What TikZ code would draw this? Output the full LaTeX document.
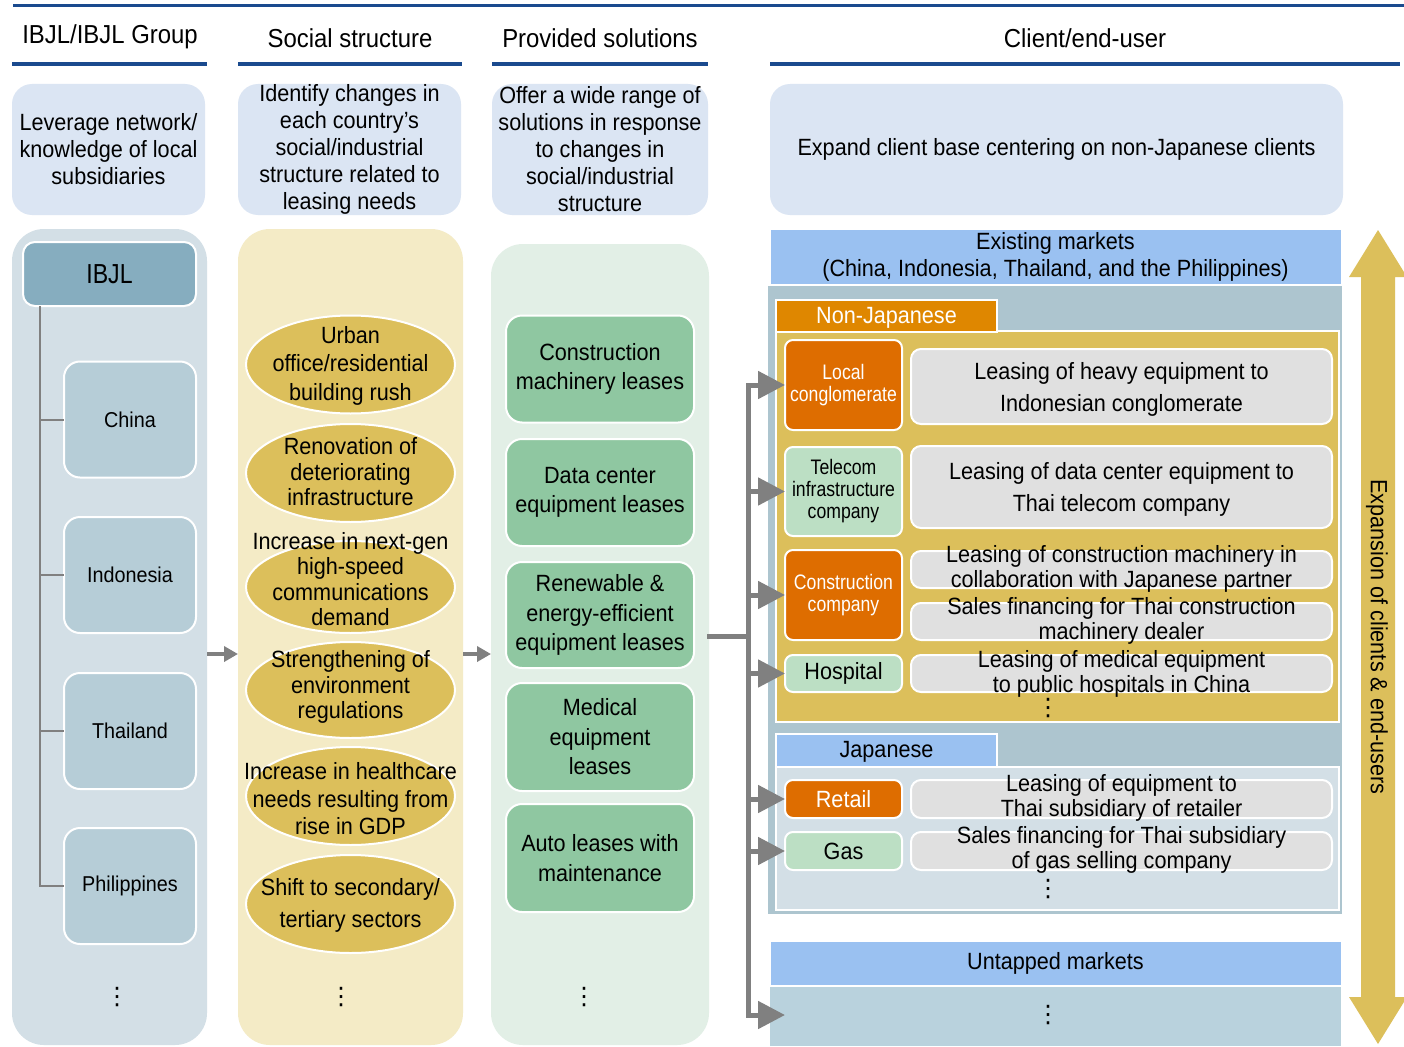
\documentclass[tikz,border=0pt]{standalone}
\usepackage{fontspec}
\setmainfont{Liberation Sans}[FakeStretch=0.92]
\newfontfamily\narrowfont{Liberation Sans}[FakeStretch=0.84]
\newfontfamily\symbolfont{DejaVu Sans}
\usetikzlibrary{arrows.meta,shapes.geometric,calc}

\definecolor{navy}{HTML}{1A4A8E}
\definecolor{aimblue}{HTML}{DBE5F3}
\definecolor{colA}{HTML}{D3DFE6}
\definecolor{colB}{HTML}{F4EBC6}
\definecolor{colC}{HTML}{E2EFE6}
\definecolor{ibjlblue}{HTML}{86ADBF}
\definecolor{countryblue}{HTML}{B6CDD7}
\definecolor{gold}{HTML}{DCBF5B}
\definecolor{leasegreen}{HTML}{8FC7A1}
\definecolor{mktblue}{HTML}{9AC1F1}
\definecolor{mktpanel}{HTML}{ADC5CF}
\definecolor{tabor}{HTML}{DF8700}
\definecolor{clientor}{HTML}{DE6D00}
\definecolor{clientgr}{HTML}{BCDFC4}
\definecolor{casegray}{HTML}{E0E0E0}
\definecolor{jpanel}{HTML}{D3DFE6}
\definecolor{newpanel}{HTML}{B9D2DD}
\definecolor{flowgray}{HTML}{808080}

\newcommand{\fsz}[2]{\fontsize{#1}{#2}\selectfont}

\tikzset{
  every node/.style={inner sep=0pt, outer sep=0pt, align=center},
  sz/.style 2 args={minimum width=#1pt, minimum height=#2pt},
  headtext/.style={font=\fsz{26}{30}},
  headrule/.style={draw=navy, line width=4pt},
  aimbox/.style={rectangle, fill=aimblue, rounded corners=20pt, font=\fsz{23.5}{27}},
  colpanel/.style={rectangle, rounded corners=32pt},
  ibjlbox/.style={rectangle, fill=ibjlblue, draw=white, line width=2pt, rounded corners=12pt, font=\narrowfont\fsz{27.5}{30}},
  countrybox/.style={rectangle, fill=countryblue, draw=white, line width=2pt, rounded corners=16pt, font=\fsz{21.5}{24}},
  need/.style={ellipse, fill=gold, draw=white, line width=2pt},
  needtext/.style={font=\fsz{23.5}{25.5}},
  leasebox/.style={rectangle, fill=leasegreen, draw=white, line width=2pt, rounded corners=16pt, font=\fsz{23.5}{29.5}},
  mkthead/.style={rectangle, fill=mktblue, draw=white, line width=1pt, font=\fsz{23.5}{27}},
  tabbox/.style={rectangle, draw=white, line width=1.5pt},
  tabtext/.style={font=\fsz{23.5}{27}},
  clientbox/.style={rectangle, draw=white, line width=2pt, rounded corners=8pt},
  orbox/.style={clientbox, fill=clientor, text=white},
  grbox/.style={clientbox, fill=clientgr},
  smalltext/.style={font=\narrowfont\fsz{21}{22}},
  casebox/.style={rectangle, fill=casegray, draw=white, line width=2pt, rounded corners=10pt},
  casetext/.style={font=\fsz{23.5}{25}},
  dots/.style={font=\symbolfont\fsz{24}{24}},
  tree/.style={draw=flowgray, line width=2pt},
  smallarrow/.style={draw=flowgray, line width=4pt, -{Triangle[length=14pt,width=15pt]}},
  busline/.style={draw=flowgray, line width=5pt, line cap=rect},
  bigarrow/.style={draw=flowgray, line width=5pt, -{Triangle[length=27pt,width=27pt]}},
}

\begin{document}
\begin{tikzpicture}[x=1pt,y=-1pt]
\useasboundingbox (0,0) rectangle (1404,1046);
\fill[white] (0,0) rectangle (1404,1046);

% top rule and column headings
\draw[draw=navy, line width=3pt] (13,6) -- (1404,6);
\node[headtext] (h1) at (110,37) {IBJL/IBJL Group};
\node[headtext] (h2) at (350,38) {Social structure};
\node[headtext] (h3) at (600,38) {Provided solutions};
\node[headtext] (h4) at (1085,38) {Client/end-user};
\draw[headrule] (12,64) -- (207,64);
\draw[headrule] (238,64) -- (462,64);
\draw[headrule] (492,64) -- (708,64);
\draw[headrule] (770,64) -- (1400,64);

% summary boxes
\node[aimbox, sz={193}{131}] (aim1) at (108.5,149.5) {Leverage network/\\knowledge of local\\subsidiaries};
\node[aimbox, sz={223}{131}] (aim2) at (349.5,149.5) {Identify changes in\\each country’s\\social/industrial\\structure related to\\leasing needs};
\node[aimbox, sz={216}{131}] (aim3) at (600,149.5) {Offer a wide range of\\solutions in response\\to changes in\\social/industrial\\structure};
\node[aimbox, sz={573}{131}] (aim4) at (1056.5,149.5) {Expand client base centering on non-Japanese clients};

% column panels
\node[colpanel, fill=colA, sz={195}{816}] (c1) at (109.5,637) {};
\node[colpanel, fill=colB, sz={225}{816}] (c2) at (350.5,637) {};
\node[colpanel, fill=colC, sz={218}{801}] (c3) at (600,644.5) {};

% IBJL group tree
\node[ibjlbox, sz={173}{64}] (ibjl) at (109.5,274) {IBJL};
\node[countrybox, sz={132}{116}] (china) at (130,419.5) {China};
\node[countrybox, sz={132}{116}] (indo) at (130,575) {Indonesia};
\node[countrybox, sz={132}{116}] (thai) at (130,731) {Thailand};
\node[countrybox, sz={132}{116}] (phil) at (130,886) {Philippines};
\coordinate (trunk) at ($(ibjl.south west)+(17,0)$);
\draw[tree] (trunk) |- (china.west);
\draw[tree] (trunk) |- (indo.west);
\draw[tree] (trunk) |- (thai.west);
\draw[tree] (trunk) |- (phil.west);
\node[dots] (d1) at (117,997) {⋮};

% social structure changes
\node[need, sz={209}{98}] (e1) at (350.5,364.5) {};
\node[need, sz={209}{98}] (e2) at (350.5,473) {};
\node[need, sz={209}{92}] (e3) at (350.5,587) {};
\node[need, sz={209}{96}] (e4) at (350.5,690) {};
\node[need, sz={209}{98}] (e5) at (350.5,796) {};
\node[need, sz={209}{98}] (e6) at (350.5,904) {};
\node[needtext, font=\fsz{23.5}{28.5}] (e1t) at (350.5,365.5) {Urban\\office/residential\\building rush};
\node[needtext] (e2t) at (350.5,472) {Renovation of\\deteriorating\\infrastructure};
\node[needtext] (e3t) at (350.5,579) {Increase in next-gen\\high-speed\\communications\\demand};
\node[needtext] (e4t) at (350.5,687) {Strengthening of\\environment\\regulations};
\node[needtext, font=\fsz{23.5}{27.5}] (e5t) at (350.5,799) {Increase in healthcare\\needs resulting from\\rise in GDP};
\node[needtext, font=\fsz{23.5}{32}] (e6t) at (350.5,905) {Shift to secondary/\\tertiary sectors};
\node[dots] (d2) at (341,997) {⋮};

% provided solutions
\node[leasebox, sz={188}{107}] (g1) at (600,369) {Construction\\machinery leases};
\node[leasebox, sz={188}{107}] (g2) at (600,492.5) {Data center\\equipment leases};
\node[leasebox, sz={188}{106}] (g3) at (600,615) {Renewable \&\\energy-efficient\\equipment leases};
\node[leasebox, sz={188}{108}] (g4) at (600,737) {Medical\\equipment\\leases};
\node[leasebox, sz={188}{108}] (g5) at (600,858) {Auto leases with\\maintenance};
\node[dots] (d3) at (584,997) {⋮};

% flow between the first three columns
\coordinate (flowy) at (0,654);
\draw[smallarrow] (c1.east |- flowy) -- (c2.west |- flowy);
\draw[smallarrow] (c2.east |- flowy) -- (c3.west |- flowy);

% existing markets
\node[mkthead, sz={571}{55}] (exist) at (1055.5,256.5) {Existing markets\\(China, Indonesia, Thailand, and the Philippines)};
\node[rectangle, fill=mktpanel, sz={574}{628}] (expanel) at (1055,600) {};
\node[tabbox, fill=gold, sz={563}{391}] (njpanel) at (1057.5,526.5) {};
\node[tabbox, fill=tabor, sz={221}{32}] (njtab) at (886.5,316) {};
\node[tabtext, text=white] (njtabt) at (886.5,318) {Non-Japanese};

\node[orbox, sz={117}{90}] (lc) at (843.5,385) {};
\node[smalltext, text=white] (lct) at (lc) {Local\\conglomerate};
\node[grbox, sz={117}{89}] (tel) at (843.5,491.5) {};
\node[smalltext] (telt) at (tel) {Telecom\\infrastructure\\company};
\node[orbox, sz={117}{90}] (cc) at (843.5,595) {};
\node[smalltext, text=white] (cct) at (cc) {Construction\\company};
\node[grbox, sz={117}{37}, font=\fsz{23.5}{27}] (hos) at (843.5,673.5) {Hospital};

\node[casebox, sz={421}{75}] (k1) at (1121.5,386.5) {};
\node[casetext, font=\fsz{23.5}{32}] (k1t) at (1121.5,389) {Leasing of heavy equipment to\\Indonesian conglomerate};
\node[casebox, sz={421}{82}] (k2) at (1121.5,487) {};
\node[casetext, font=\fsz{23.5}{32}] (k2t) at (1121.5,489) {Leasing of data center equipment to\\Thai telecom company};
\node[casebox, sz={421}{37}] (k3) at (1121.5,569.5) {};
\node[casebox, sz={421}{37}] (k4) at (1121.5,621.5) {};
\node[casebox, sz={421}{37}] (k5) at (1121.5,673.5) {};
\node[casetext] (k3t) at (1121.5,568.5) {Leasing of construction machinery in\\collaboration with Japanese partner};
\node[casetext] (k4t) at (1121.5,621) {Sales financing for Thai construction\\machinery dealer};
\node[casetext] (k5t) at (1121.5,673.5) {Leasing of medical equipment\\to public hospitals in China};
\node[dots] (d4) at (1048,708) {⋮};

\node[tabbox, fill=jpanel, sz={563}{143}] (jpanelbox) at (1057.5,838.5) {};
\node[tabbox, fill=mktblue, sz={221}{33}] (jtab) at (886.5,750.5) {};
\node[tabtext] (jtabt) at (886.5,752) {Japanese};
\node[orbox, sz={117}{38}, font=\fsz{23.5}{27}] (retail) at (843.5,799) {Retail};
\node[grbox, sz={117}{38}, font=\fsz{23.5}{27}] (gas) at (843.5,851) {Gas};
\node[casebox, sz={421}{38}] (k6) at (1121.5,799) {};
\node[casebox, sz={421}{38}] (k7) at (1121.5,851) {};
\node[casetext] (k6t) at (1121.5,798) {Leasing of equipment to\\Thai subsidiary of retailer};
\node[casetext] (k7t) at (1121.5,850) {Sales financing for Thai subsidiary\\of gas selling company};
\node[dots] (d5) at (1048,889) {⋮};

% untapped markets
\node[mkthead, sz={571}{44}] (untap) at (1055.5,963) {Untapped markets};
\node[rectangle, fill=newpanel, sz={571}{59}] (unpanel) at (1055.5,1016.5) {};
\node[dots] (d6) at (1048,1015) {⋮};

% distribution of solutions to clients
\coordinate (busin) at (748,636);
\coordinate (uend) at (785,1015);
\draw[busline] (c3.east |- busin) -- (busin);
\draw[busline] (busin |- lc.west) -- (busin |- uend);
\draw[bigarrow] (busin |- lc.west) -- (lc.west);
\draw[bigarrow] (busin |- tel.west) -- (tel.west);
\draw[bigarrow] (busin |- cc.west) -- (cc.west);
\draw[bigarrow] (busin |- hos.west) -- (hos.west);
\draw[bigarrow] (busin |- retail.west) -- (retail.west);
\draw[bigarrow] (busin |- gas.west) -- (gas.west);
\draw[bigarrow] (busin |- uend) -- (uend);

% expansion double arrow
\fill[gold] (1378,230) -- (1407,277) -- (1395,277) -- (1395,997) -- (1407,997)
  -- (1378,1044) -- (1349,997) -- (1361,997) -- (1361,277) -- (1349,277) -- cycle;
\node[rotate=-90, font=\fsz{23.5}{27}] (expt) at (1377,637) {Expansion of clients \& end-users};
\end{tikzpicture}
\end{document}
